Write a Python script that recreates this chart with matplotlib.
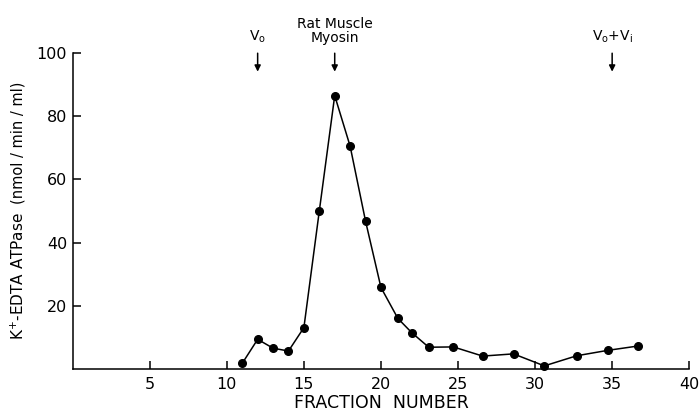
import matplotlib
matplotlib.use("Agg")
from matplotlib import pyplot as plt

# fraction number vs K+-EDTA ATPase activity
fractions = [11, 12, 13, 14, 15, 16, 17, 18, 19, 20, 21.1, 22, 23.1, 24.7,
             26.6, 28.6, 30.6, 32.7, 34.7, 36.7]
activity = [1.8, 9.4, 6.6, 5.7, 13.1, 50, 86.5, 70.5, 46.8, 25.8, 16, 11.5,
            6.9, 7.0, 4.1, 4.8, 1.0, 4.2, 5.9, 7.3]

x_ticks = [5, 10, 15, 20, 25, 30, 35, 40]
y_ticks = [20, 40, 60, 80, 100]

# markers above the column: (fraction, label)
markers = [(12, "V$_\\mathrm{o}$"), (17, "Rat Muscle\nMyosin"),
           (35, "V$_\\mathrm{o}$+V$_\\mathrm{i}$")]

plt.rcParams['font.family'] = ['DejaVu Sans']
plt.rcParams['mathtext.default'] = 'regular'

fig = plt.figure(figsize=(6.99, 4.17), dpi=100)
ax = fig.add_axes([0.104, 0.115, 0.882, 0.758])

ax.plot(fractions, activity, color='black', linewidth=1.1,
        marker='o', markersize=5.5, clip_on=False)

ax.set_xlim(0, 40)
ax.set_ylim(0, 100)
ax.set_xticks(x_ticks)
ax.set_yticks(y_ticks)
ax.tick_params(direction='in', length=6, width=1.1, labelsize=11.5, pad=4)
ax.tick_params(axis='x', pad=6)
ax.spines['top'].set_visible(False)
ax.spines['right'].set_visible(False)
for s in ('left', 'bottom'):
    ax.spines[s].set_linewidth(1.1)

for x, label in markers:
    ax.annotate('', xy=(x, 93.2), xytext=(x, 100.8),
                arrowprops=dict(arrowstyle='-|>', color='black', lw=1.1,
                                mutation_scale=9),
                annotation_clip=False)
    ax.text(x, 102.5, label, ha='center', va='bottom', fontsize=10,
            linespacing=1.0, clip_on=False)

fig.text(0.026, 0.185, "K$^{+}$-EDTA ATPase", rotation=90,
         ha='center', va='bottom', fontsize=11)
fig.text(0.026, 0.51, "(nmol / min / ml)", rotation=90,
         ha='center', va='bottom', fontsize=10.5)
fig.text(0.545, 0.012, "FRACTION  NUMBER", ha='center', va='bottom',
         fontsize=12.5)

fig.savefig("out.png", dpi=100)
